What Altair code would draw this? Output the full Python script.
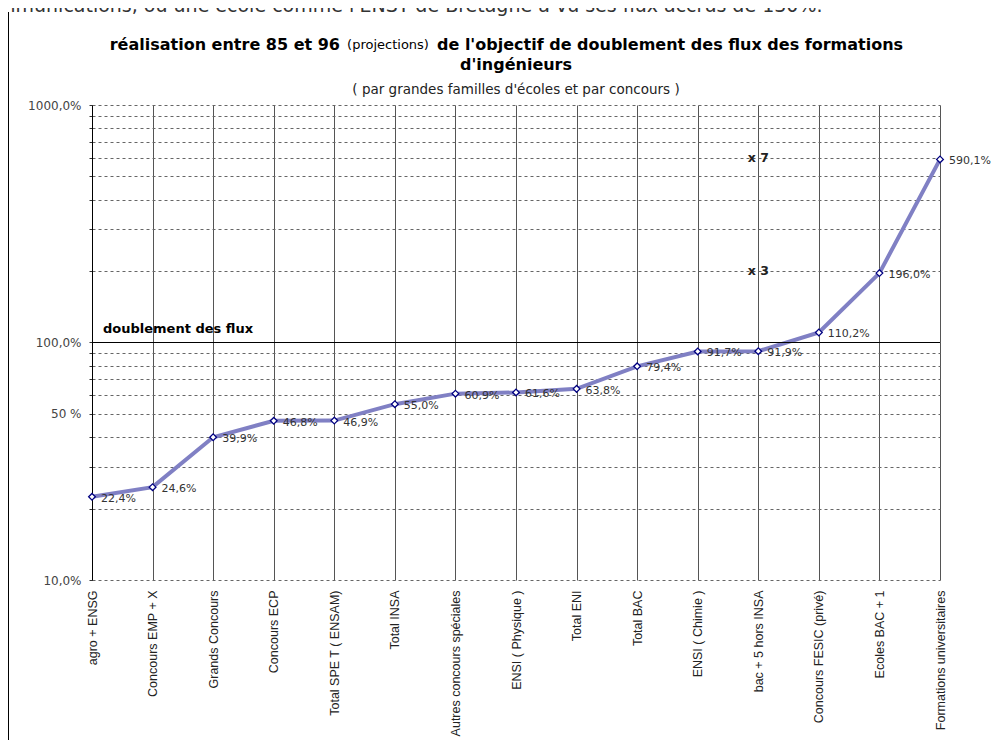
import altair as alt
import pandas as pd

categories = [
    "agro + ENSG", "Concours EMP + X", "Grands Concours", "Concours ECP",
    "Total SPE T  ( ENSAM)", "Total INSA", "Autres concours spéciales",
    "ENSI  ( Physique )", "Total ENI", "Total BAC", "ENSI  ( Chimie )",
    "bac + 5 hors INSA", "Concours FESIC  (privé)", "Ecoles BAC + 1",
    "Formations universitaires",
]
values = [22.4, 24.6, 39.9, 46.8, 46.9, 55.0, 60.9, 61.6, 63.8, 79.4,
          91.7, 91.9, 110.2, 196.0, 590.1]
labels = [f"{v:.1f}".replace(".", ",") + "%" for v in values]

y_ticks = [10, 20, 30, 40, 50, 60, 70, 80, 90,
           100, 200, 300, 400, 500, 600, 700, 800, 900, 1000]
y_tick_labels = {10: "10,0%", 50: "50 %\u00a0\u00a0\u00a0", 100: "100,0%", 1000: "1000,0%"}

annotations = [("x 7", 600), ("x 3", 200)]
annot_cat = "bac + 5 hors INSA"

df = pd.DataFrame({"cat": categories, "val": values, "lab": labels})
one = pd.DataFrame({"k": [0]})

label_expr = " : ".join(
    [f"datum.value == {k} ? '{v}'" for k, v in y_tick_labels.items()]
) + " : ''"

x_enc = alt.X(
    "cat:N",
    scale=alt.Scale(domain=categories, type="point", padding=0),
    axis=alt.Axis(
        title=None, labelAngle=-90, ticks=False, domain=False,
        grid=True, gridColor="#555555", gridWidth=1,
        labelFont="Liberation Sans", labelFontSize=12.5, labelColor="#222222",
        labelPadding=10, labelLimit=300,
    ),
)
y_enc = alt.Y(
    "val:Q",
    scale=alt.Scale(type="log", domain=[10, 1000], nice=False),
    axis=alt.Axis(
        title=None, values=y_ticks, labelExpr=label_expr,
        grid=True, gridDash=[3, 3], gridColor="#666666", gridWidth=1,
        domainColor="#000000", domainWidth=1,
        tickColor="#333333", tickSize=4, tickDash=[3, 3],
        labelFont="DejaVu Sans", labelFontSize=12, labelColor="#444444",
        labelOverlap=False, labelPadding=7,
    ),
)

base = alt.Chart(df)

rule100 = alt.Chart(one).mark_rule(color="black", strokeWidth=1).encode(
    y=alt.datum(100)
)

line = base.mark_line(color="#8080C4", strokeWidth=4).encode(x=x_enc, y=y_enc)

pts = base.mark_point(
    shape="diamond", filled=True, fill="white", stroke="#000080",
    strokeWidth=1.3, size=45, opacity=1,
).encode(x="cat:N", y="val:Q")

txt = base.mark_text(
    align="left", baseline="middle", dx=9, dy=2,
    font="DejaVu Sans", fontSize=11, color="#333333",
).encode(x="cat:N", y="val:Q", text="lab:N")

doubl = alt.Chart(one).mark_text(
    align="left", baseline="middle", dx=11, dy=-14,
    font="DejaVu Sans", fontSize=13, fontWeight="bold", color="#000000",
).encode(x=alt.datum(categories[0]), y=alt.datum(100), text=alt.value("doublement des flux"))

annot_layers = [
    alt.Chart(one).mark_text(
        align="center", baseline="middle",
        font="DejaVu Sans", fontSize=12.5, fontWeight="bold", color="#222222",
    ).encode(x=alt.datum(annot_cat), y=alt.datum(yv), text=alt.value(t))
    for t, yv in annotations
]

def ptext(t, x, y, align="left", size=16, weight="bold", font="DejaVu Sans", color="#000000"):
    return alt.Chart(one).mark_text(
        align=align, baseline="middle", font=font, fontSize=size,
        fontWeight=weight, color=color,
    ).encode(x=alt.value(x), y=alt.value(y), text=alt.value(t))

title_layers = [
    ptext("réalisation entre 85 et 96", 248, -60, align="right"),
    ptext("(projections)", 296, -60, align="center", size=13, weight="normal"),
    ptext("de l'objectif de doublement des flux des formations", 345, -60, align="left"),
    ptext("d'ingénieurs", 424, -40, align="center"),
    ptext("( par grandes familles d'écoles et par concours )", 424, -15,
          align="center", size=13.5, weight="normal", color="#222222"),
]

top_text = alt.Chart(one).mark_text(
    align="left", baseline="alphabetic", font="DejaVu Sans", fontSize=19,
    color="#333333",
).encode(
    x=alt.value(-95), y=alt.value(-93),
    text=alt.value("mmunications, où une école comme l'ENST de Bretagne a vu ses flux accrus de 130%."),
)

page_line = alt.Chart(one).mark_rule(color="#000000", strokeWidth=1).encode(
    x=alt.value(-83.5), y=alt.value(-93), y2=alt.value(640)
)

chart = alt.layer(
    line, rule100, pts, txt, doubl, *annot_layers, *title_layers, top_text, page_line
).properties(
    width=848, height=475,
    autosize=alt.AutoSizeParams(type="none"),
    padding={"left": 84, "top": 97, "right": 54, "bottom": 160},
    background="white",
).configure_view(stroke=None)

chart.save("out.html", embed_options={"renderer": "svg", "actions": False})
